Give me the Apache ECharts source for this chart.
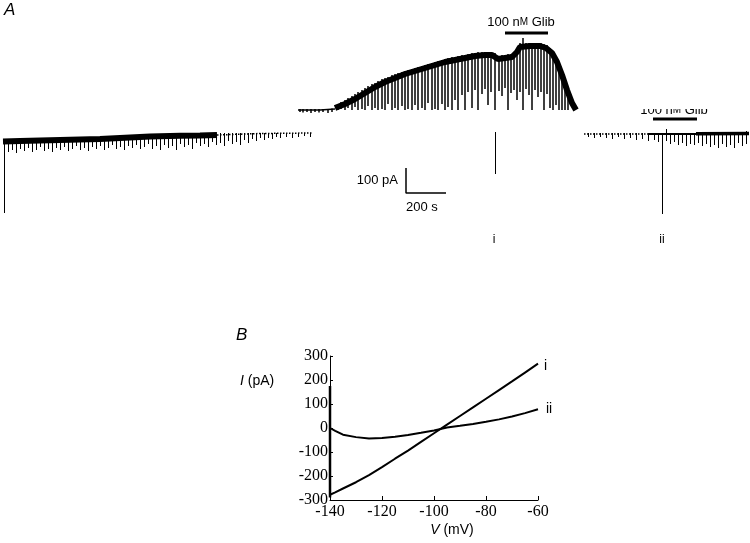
<!DOCTYPE html>
<html>
<head>
<meta charset="utf-8">
<script src="https://cdn.jsdelivr.net/npm/echarts@6/dist/echarts.min.js"></script>
<style>
  html, body { margin: 0; padding: 0; background: #fff; }
  #chart { width: 750px; height: 543px; }
</style>
</head>
<body>
<div id="chart"></div>
<script>
// ---- panel A : whole-cell current, time in s, current in pA ----
// holding current, left part (thick band) and its faint tail
const leftBand = [[15, -26], [100, -24], [300, -20], [500, -16], [600, -12], [750, -6], [900, -3], [1000, -2], [1085, 0]]
const leftTail = [[1085, 0], [1300, 6], [1560, 8]]
// middle part, the outward current that develops
const midBase = [[1490, 100], [1600, 100], [1675, 104]]
const midBand = [[1675, 108], [1725, 124], [1775, 144], [1825, 168], [1875, 192], [1925, 212], [1975, 228],
  [2025, 244], [2075, 256], [2125, 268], [2175, 280], [2225, 292], [2275, 300], [2325, 308], [2375, 316],
  [2425, 320], [2460, 320], [2490, 304], [2525, 308], [2560, 312], [2585, 332], [2600, 352], [2650, 356],
  [2700, 356], [2730, 348], [2760, 328], [2785, 292], [2810, 240], [2835, 180], [2860, 128], [2880, 100]]
// right part, after wash
const rightTail = [[2920, 4], [3240, 4]]
const rightThin = [[3240, 4], [3480, 4]]
const rightBand = [[3480, 5], [3745, 6]]

// voltage ramps: [time, top, bottom]
const leftRamps = [
  [40, -16, -68], [60, -16, -60], [80, -16, -72], [100, -16, -56], [120, -16, -64], [140, -16, -52],
  [160, -16, -68], [180, -16, -60], [200, -16, -48], [220, -16, -64], [240, -16, -56], [260, -16, -68],
  [280, -16, -52], [300, -12, -60], [320, -12, -48], [340, -12, -64], [360, -12, -56], [380, -12, -44],
  [400, -12, -60], [420, -12, -52], [440, -12, -64], [460, -12, -48], [480, -12, -56], [500, -12, -44],
  [520, -12, -60], [540, -12, -52], [560, -12, -40], [580, -12, -56], [600, -8, -48], [620, -8, -60],
  [640, -8, -44], [660, -8, -52], [680, -8, -40], [700, -8, -56], [720, -8, -48], [740, -8, -36],
  [760, -8, -56], [780, -8, -44], [800, -8, -60], [820, -8, -40], [840, -8, -52], [860, -8, -44],
  [880, -8, -60], [900, 0, -36], [920, 0, -48], [940, 0, -40], [960, 0, -56], [980, 0, -32],
  [1000, 0, -44], [1020, 0, -36], [1040, 0, -48], [1060, 0, -28], [1080, 0, -40], [1100, 8, -32],
  [1120, 8, -44], [1140, 8, -24], [1160, 8, -36], [1180, 8, -28], [1200, 8, -40], [1220, 8, -20],
  [1240, 8, -32], [1260, 8, -16], [1280, 8, -24], [1300, 8, -12], [1320, 8, -20], [1340, 8, -12],
  [1360, 8, -16], [1380, 8, -8], [1400, 8, -12], [1430, 8, -8], [1460, 8, -12], [1490, 8, -8],
  [1520, 8, -4], [1550, 8, -8]
]
const midRamps = [
  [1500, 104, 92], [1515, 104, 90], [1535, 104, 92], [1555, 104, 88], [1575, 104, 92], [1595, 104, 90],
  [1615, 104, 92], [1640, 104, 88], [1660, 106, 92],
  [1690, 124, 100], [1705, 132, 104], [1725, 140, 100], [1740, 148, 108], [1760, 156, 100], [1775, 164, 112],
  [1790, 172, 100], [1810, 180, 104], [1825, 188, 100], [1840, 196, 116], [1860, 204, 100], [1875, 208, 108],
  [1890, 216, 100], [1910, 224, 104], [1925, 228, 100], [1940, 232, 124], [1960, 240, 100], [1975, 244, 108],
  [1990, 248, 100], [2010, 252, 116], [2025, 256, 100], [2040, 260, 104], [2060, 264, 100], [2075, 268, 120],
  [2090, 272, 100], [2110, 276, 108], [2125, 280, 100], [2140, 284, 128], [2160, 288, 100], [2175, 292, 104],
  [2190, 296, 100], [2210, 300, 124], [2225, 304, 100], [2240, 308, 112], [2260, 312, 100], [2275, 312, 140],
  [2290, 316, 100], [2310, 320, 160], [2325, 320, 100], [2340, 324, 172], [2360, 328, 108], [2375, 328, 180],
  [2390, 332, 100], [2410, 332, 164], [2425, 332, 184], [2440, 332, 120], [2455, 332, 172], [2475, 328, 100],
  [2495, 316, 176], [2510, 320, 156], [2525, 320, 188], [2540, 324, 100], [2555, 324, 168], [2570, 332, 180],
  [2585, 348, 140], [2600, 368, 172], [2615, 388, 100], [2630, 368, 184], [2645, 368, 160], [2660, 368, 100],
  [2675, 368, 180], [2690, 368, 152], [2705, 368, 172], [2720, 364, 100], [2735, 360, 164], [2750, 348, 108],
  [2765, 332, 100], [2780, 312, 120], [2795, 280, 100], [2810, 252, 100], [2825, 220, 100], [2840, 188, 100]
]
const rightRamps = [
  [2940, 8, -8], [2970, 8, -12], [3000, 8, -8], [3030, 8, -12], [3060, 8, -16], [3090, 8, -8],
  [3120, 8, -16], [3150, 8, -12], [3180, 8, -20], [3210, 8, -16], [3240, 8, -24], [3270, 8, -20],
  [3290, 8, -28], [3330, 24, -24], [3350, 8, -36], [3370, 8, -28], [3390, 8, -40], [3410, 8, -32],
  [3430, 8, -44], [3450, 8, -36], [3470, 8, -40], [3490, 8, -32], [3510, 12, -44], [3530, 12, -36],
  [3550, 12, -48], [3570, 12, -40], [3590, 12, -52], [3610, 12, -36], [3630, 12, -48], [3650, 12, -40],
  [3670, 12, -52], [3690, 12, -32], [3710, 12, -44], [3730, 16, -36]
]
// the long ones: start of recording, ramp i and ramp ii
const bigRamps = [[20, -20, -312], [2475, 12, -156], [3310, 8, -316]]

// glibenclamide application: [start, end, level]
const glibBars = [[2525, 2740, 408], [3265, 3485, 64]]
// scale bar, 100 pA / 200 s
const scaleBar = [[2030, -132], [2030, -232], [2230, -232]]

// ---- panel B : I-V relations of ramps i and ii ----
const ivVolt = [-140, -138, -135, -130, -125, -120, -115, -110, -105, -100, -95, -90, -85, -80, -75, -70, -65, -60]
const curveI = [-278, -268, -252, -226, -196, -163, -128, -94, -58, -22, 14, 50, 86, 122, 158, 194, 231, 268]
const curveII = [0, -12, -28, -38, -44, -42, -36, -29, -20, -10, 2, 9, 17, 26, 36, 48, 62, 78]
const transient = [[-140, 175], [-140, -290]]
const voltTicks = [-140, -120, -100, -80, -60]
const currTicks = [-300, -200, -100, 0, 100, 200, 300]

const sans = 'Liberation Sans'
const serif = 'Liberation Serif'

// vertical stroke for one ramp; crisp ones snap to the pixel grid
function makeRampItem(width, crisp) {
  return function (params, api) {
    const p1 = api.coord([api.value(0), api.value(1)])
    const p2 = api.coord([api.value(0), api.value(2)])
    const x = crisp ? Math.round(p1[0]) + 0.5 : p1[0]
    return {
      type: 'line',
      shape: { x1: x, y1: p1[1], x2: x, y2: p2[1] },
      style: { stroke: '#000', lineWidth: width }
    }
  }
}
function barItem(params, api) {
  const p1 = api.coord([api.value(0), api.value(2)])
  const p2 = api.coord([api.value(1), api.value(2)])
  return {
    type: 'line',
    shape: { x1: p1[0], y1: p1[1], x2: p2[0], y2: p2[1] },
    style: { stroke: '#000', lineWidth: 3 }
  }
}

function traceLine(data, width, type) {
  return {
    type: 'line', xAxisIndex: 0, yAxisIndex: 0, data: data,
    showSymbol: false, silent: true,
    lineStyle: { color: '#000', width: width, type: type || 'solid' }
  }
}
function rampSeries(data, width, crisp) {
  return {
    type: 'custom', xAxisIndex: 0, yAxisIndex: 0, data: data,
    renderItem: makeRampItem(width, crisp), encode: { x: 0, y: [1, 2] }, silent: true
  }
}

const chart = echarts.init(document.getElementById('chart'))

const option = {
  animation: false,
  backgroundColor: '#fff',
  grid: [
    { left: 0, top: 15, width: 750, height: 240 },
    { left: 330, top: 356, width: 208, height: 144 }
  ],
  xAxis: [
    { gridIndex: 0, type: 'value', min: 0, max: 3750, show: false },
    {
      gridIndex: 1, type: 'value', min: -140, max: -60, interval: 20,
      axisLine: { onZero: false, lineStyle: { color: '#000', width: 1 } },
      axisTick: { inside: true, length: 4, lineStyle: { color: '#000' } },
      axisLabel: {
        color: '#000', fontFamily: serif, fontSize: 16, margin: 4,
        formatter: v => (voltTicks.indexOf(v) >= 0 ? String(v) : '')
      },
      splitLine: { show: false }
    }
  ],
  yAxis: [
    { gridIndex: 0, type: 'value', min: -480, max: 480, show: false },
    {
      gridIndex: 1, type: 'value', min: -300, max: 300, interval: 100,
      axisLine: { show: true, onZero: false, lineStyle: { color: '#000', width: 1 } },
      axisTick: { show: true, inside: true, length: 3, lineStyle: { color: '#000' } },
      axisLabel: {
        color: '#000', fontFamily: serif, fontSize: 16, margin: 2,
        formatter: v => (currTicks.indexOf(v) >= 0 ? String(v) : '')
      },
      splitLine: { show: false }
    }
  ],
  series: [
    rampSeries(leftRamps, 1, true),
    rampSeries(midRamps, 1.5, false),
    rampSeries(rightRamps, 1, true),
    rampSeries(bigRamps, 1, true),
    traceLine(leftBand, 6),
    traceLine(leftTail, 1.5, 'dotted'),
    traceLine(midBase, 1.5),
    traceLine(midBand, 6),
    traceLine(rightTail, 1.5, 'dotted'),
    traceLine(rightThin, 2),
    traceLine(rightBand, 3.5),
    {
      type: 'custom', xAxisIndex: 0, yAxisIndex: 0, data: glibBars,
      renderItem: barItem, encode: { x: [0, 1], y: 2 }, silent: true
    },
    traceLine(scaleBar, 1.5),
    // panel B
    {
      type: 'line', xAxisIndex: 1, yAxisIndex: 1, showSymbol: false,
      data: ivVolt.map((v, k) => [v, curveI[k]]),
      lineStyle: { color: '#000', width: 2 }
    },
    {
      type: 'line', xAxisIndex: 1, yAxisIndex: 1, showSymbol: false,
      data: ivVolt.map((v, k) => [v, curveII[k]]),
      lineStyle: { color: '#000', width: 2 }
    },
    {
      type: 'line', xAxisIndex: 1, yAxisIndex: 1, showSymbol: false,
      data: transient,
      lineStyle: { color: '#000', width: 2.5 }
    }
  ],
  graphic: [
    { type: 'text', left: 4, top: 2, z: 10, style: { text: 'A', font: 'italic 17px ' + sans, fill: '#000' } },
    { type: 'text', left: 236, top: 327, z: 10, style: { text: 'B', font: 'italic 17px ' + sans, fill: '#000' } },
    {
      type: 'text', x: 521, y: 22, z: 10,
      style: {
        text: '{a|100 n}{b|M}{a| Glib}', align: 'center', verticalAlign: 'middle',
        rich: { a: { fontSize: 13, fontFamily: sans, fill: '#000' }, b: { fontSize: 10, fontFamily: sans, fill: '#000' } }
      }
    },
    // second label is half hidden in the original
    {
      type: 'text', x: 674, y: 117, z: 10,
      style: {
        text: '{a|100 n}{b|M}{a| Glib}', align: 'center', verticalAlign: 'bottom',
        rich: { a: { fontSize: 13, fontFamily: sans, fill: '#000' }, b: { fontSize: 10, fontFamily: sans, fill: '#000' } }
      }
    },
    { type: 'rect', z: 11, shape: { x: 625, y: 95, width: 100, height: 14 }, style: { fill: '#fff' } },
    { type: 'text', x: 398, y: 180, z: 10, style: { text: '100 pA', font: '13px ' + sans, fill: '#000', align: 'right', verticalAlign: 'middle' } },
    { type: 'text', x: 406, y: 207, z: 10, style: { text: '200 s', font: '13px ' + sans, fill: '#000', align: 'left', verticalAlign: 'middle' } },
    { type: 'text', x: 494, y: 240, z: 10, style: { text: 'i', font: '12px ' + sans, fill: '#000', align: 'center', verticalAlign: 'middle' } },
    { type: 'text', x: 662, y: 240, z: 10, style: { text: 'ii', font: '12px ' + sans, fill: '#000', align: 'center', verticalAlign: 'middle' } },
    {
      type: 'text', x: 240, y: 381, z: 10,
      style: {
        text: '{i|I} (pA)', verticalAlign: 'middle',
        rich: { i: { fontSize: 14, fontStyle: 'italic', fontFamily: sans, fill: '#000' } },
        font: '14px ' + sans, fill: '#000'
      }
    },
    {
      type: 'text', x: 452, y: 530, z: 10,
      style: {
        text: '{i|V} (mV)', align: 'center', verticalAlign: 'middle',
        rich: { i: { fontSize: 14, fontStyle: 'italic', fontFamily: sans, fill: '#000' } },
        font: '14px ' + sans, fill: '#000'
      }
    },
    { type: 'text', x: 544, y: 366, z: 10, style: { text: 'i', font: '14px ' + sans, fill: '#000', verticalAlign: 'middle' } },
    { type: 'text', x: 546, y: 409, z: 10, style: { text: 'ii', font: '14px ' + sans, fill: '#000', verticalAlign: 'middle' } }
  ]
}

chart.setOption(option)
</script>
</body>
</html>
